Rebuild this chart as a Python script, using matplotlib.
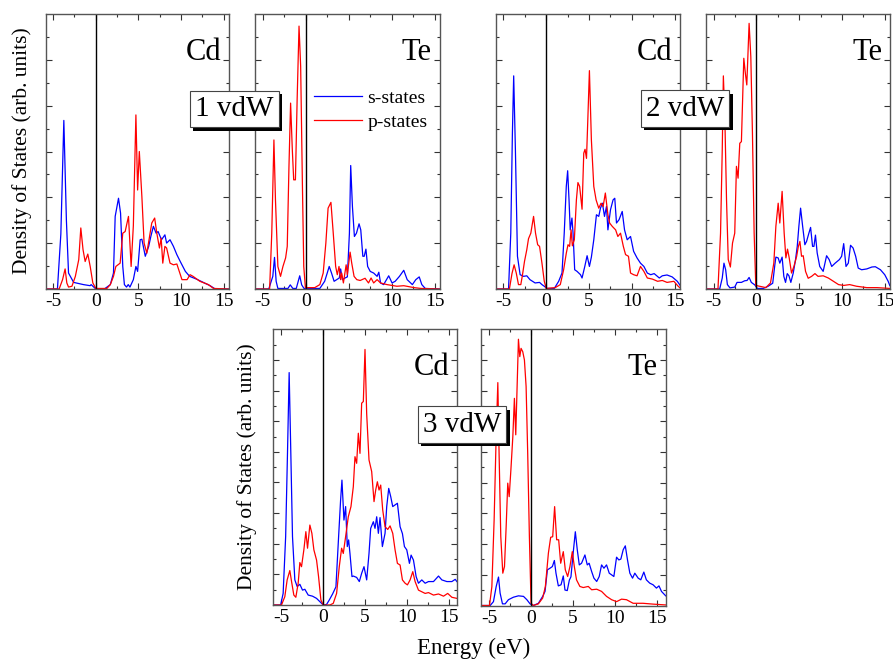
import matplotlib
matplotlib.use("Agg")
import matplotlib.pyplot as plt
from matplotlib.patches import Rectangle
import numpy as np

plt.rcParams['font.family'] = ['Liberation Serif', 'DejaVu Serif']

# --- data (energy in eV, DOS in % of panel height) ---
# 1 vdW, Cd
cd1_s_E = [-6, -4.5, -4.1, -3.75, -3.45, -3.2, -2.6, -1.45, -0.66, -0.55, 0, 1.0, 1.7, 2.07, 2.27, 2.66, 2.9, 3.16, 3.35, 3.6, 3.8, 4.0, 4.4, 4.7, 4.9, 5.2, 5.4, 5.8, 6.2, 6.45, 6.75, 7.07, 7.3, 7.7, 8.1, 8.3, 8.7, 9.1, 9.5, 9.9, 10.5, 11.0, 11.8, 12.6, 13.4, 14.0, 15.6]
cd1_s = [0, 0, 20, 61.3, 25, 5.8, 2.4, 1.6, 1.2, 1.6, 0, 0, 1.6, 5.8, 26.4, 33, 27.6, 8.2, 1.6, 0.7, 1.6, 0.7, 3.4, 8.2, 6.4, 17.9, 18.1, 11.9, 15.5, 19.1, 22.8, 20.3, 20.9, 17.9, 19.7, 16.7, 17.9, 15.5, 12.5, 10, 6.4, 4.6, 3.6, 2.4, 1.2, 0, 0]
cd1_p_E = [-6, -4.3, -3.9, -3.6, -3.4, -3.2, -2.8, -2.4, -2.0, -1.76, -1.5, -1.25, -0.94, -0.66, -0.35, 0, 1.3, 1.7, 2.07, 2.35, 2.85, 3.16, 3.44, 3.83, 4.14, 4.4, 4.7, 4.9, 5.1, 5.4, 5.66, 5.98, 6.3, 6.56, 6.9, 7.15, 7.46, 7.66, 7.85, 8.1, 8.3, 8.7, 9.1, 9.5, 10.1, 10.7, 11.05, 11.4, 12.2, 13.2, 13.8, 15.6]
cd1_p = [0, 0, 3.4, 7.3, 2.2, 0.7, 1.0, 4.6, 10.7, 22.2, 14.3, 10, 12.7, 8.2, 2.2, 0.2, 0.2, 1.6, 4.6, 8.2, 9.4, 20.3, 20.9, 26.4, 8.2, 23, 63.3, 36, 50, 33.6, 16.7, 13, 19.1, 24, 25.8, 20.3, 14.9, 18.5, 9.4, 15.5, 14.9, 9.4, 8.8, 9.1, 3.4, 3.4, 5.2, 4.6, 2.8, 1.6, 0.2, 0]

# 1 vdW, Te
te1_s_E = [-6, -4.3, -3.83, -3.63, -3.44, -3.24, -2.07, -1.8, -1.5, -1.1, -0.7, -0.47, -0.2, 1.64, 2.2, 2.5, 2.73, 3.0, 3.3, 3.6, 3.9, 4.06, 4.26, 4.57, 4.84, 5.08, 5.23, 5.43, 5.66, 5.9, 6.2, 6.4, 6.64, 6.8, 7.0, 7.2, 7.5, 7.9, 8.3, 8.5, 8.7, 9.06, 9.65, 10.04, 10.4, 10.9, 11.4, 11.8, 12.4, 12.8, 13.2, 13.5, 13.9, 15.6]
te1_s = [0, 0, 4.6, 11.5, 2.8, 0.2, 0.2, 1.5, 0.2, 0.2, 4.8, 1.5, 0.2, 0.2, 2.8, 5.8, 8.2, 5.8, 2.8, 3.4, 4.0, 7.3, 3.4, 4.0, 4.4, 20.3, 44.9, 30, 19.1, 20.3, 23.7, 21.5, 11.9, 11.9, 14.5, 8.2, 6.4, 5.8, 4.6, 6.1, 2.2, 1.6, 4.8, 2.2, 2.8, 4.6, 6.8, 3.4, 1.6, 3.4, 4.4, 1.6, 0.2, 0]
te1_p_E = [-6, -4.2, -3.95, -3.7, -3.52, -3.24, -2.93, -2.65, -2.34, -2.15, -1.95, -1.76, -1.56, -1.4, -1.2, -1.0, -0.78, -0.59, -0.39, -0.23, -0.04, 1.05, 1.64, 2.03, 2.34, 2.6, 2.93, 3.2, 3.48, 3.67, 3.87, 4.06, 4.18, 4.38, 4.7, 4.84, 5.16, 5.35, 5.62, 5.94, 6.33, 6.9, 7.3, 7.6, 7.9, 8.3, 8.7, 9.45, 10.6, 11.4, 12.6, 13.4, 15.6]
te1_p = [0, 0, 20.3, 54.2, 32.4, 8.2, 4.6, 8.2, 11.3, 15.5, 44.6, 67.6, 50.6, 39.7, 39.7, 68.8, 95.6, 80.9, 38.5, 8.2, 0.5, 0.5, 1.6, 5.8, 16.7, 29.4, 31.5, 20.3, 8.2, 5.2, 8.2, 3.4, 5.8, 2.2, 8.8, 5.2, 13.4, 9.4, 4.6, 3.4, 3.1, 3.9, 2.2, 4.0, 2.2, 3.4, 2.2, 1.6, 1.0, 1.2, 0.5, 0.2, 0]

# 2 vdW, Cd
cd2_s_E = [-6, -4.4, -4.14, -3.95, -3.8, -3.6, -3.36, -3.05, -2.65, -2.27, -1.9, -1.3, -0.78, -0.5, -0.23, 0.08, 0.94, 1.45, 1.84, 2.1, 2.34, 2.5, 2.66, 2.8, 3.0, 3.13, 3.32, 3.6, 4.0, 4.18, 4.5, 4.77, 5.04, 5.27, 5.55, 5.86, 6.13, 6.33, 6.56, 6.8, 7.03, 7.2, 7.5, 7.8, 8.0, 8.2, 8.5, 8.87, 9.14, 9.45, 9.84, 10.2, 10.6, 11.0, 11.4, 11.8, 12.2, 12.6, 13.2, 13.55, 14.1, 14.7, 15.3, 15.7]
cd2_s = [0, 0, 20.3, 56.7, 77.5, 50.6, 11.9, 5.2, 4.6, 4.8, 3.4, 2.2, 2.4, 1.6, 1.0, 0.2, 0.2, 2.8, 5.8, 20.3, 37.3, 43, 32.4, 21.5, 25.8, 20.3, 7, 6.4, 5.2, 4.0, 8.2, 12.1, 8.2, 11.6, 17.9, 27, 26.4, 29.4, 31.2, 26.4, 30, 21.5, 28.8, 32.4, 33, 24, 25.2, 28.2, 21.5, 17.9, 19.1, 13.7, 11.3, 9.4, 8.2, 5.8, 5.2, 5.6, 4.0, 4.8, 5.1, 4.4, 2.8, 1.0]
cd2_p_E = [-6, -4.3, -4.0, -3.75, -3.5, -3.24, -2.97, -2.77, -2.54, -2.27, -2.07, -1.8, -1.48, -1.25, -1.0, -0.78, -0.5, -0.23, 0, 1.05, 1.64, 2.03, 2.34, 2.54, 2.73, 2.9, 3.05, 3.28, 3.52, 3.7, 3.9, 4.18, 4.38, 4.53, 4.7, 4.84, 5.04, 5.27, 5.55, 5.82, 6.13, 6.4, 6.64, 6.9, 7.2, 7.4, 7.7, 8.1, 8.36, 8.67, 9.0, 9.26, 9.6, 9.84, 10.2, 10.6, 11.0, 11.4, 11.8, 12.4, 13.0, 13.55, 14.1, 14.9, 15.4, 15.7]
cd2_p = [0, 0, 5.6, 8.8, 5.8, 1.6, 1.6, 5.2, 10, 14.3, 18.3, 20.3, 26.4, 20.3, 16.1, 15.5, 9.4, 2.8, 0.2, 0.5, 1.6, 7, 13, 16.1, 15.5, 21.5, 15.7, 17.9, 32.4, 38.7, 37.3, 29, 49.4, 50.8, 47.5, 60.3, 79.4, 54.2, 37.3, 32.4, 29.4, 31.2, 30, 34.9, 27, 24, 22.8, 21.5, 19.1, 20.3, 15.5, 12.5, 11.9, 5.8, 5.2, 4.8, 8.2, 6.4, 4.0, 3.6, 2.8, 3.1, 2.4, 2.8, 1.0, 0.2]

# 2 vdW, Te
te2_s_E = [-6, -4.3, -4.0, -3.8, -3.6, -3.4, -3.1, -2.54, -2.27, -1.76, -1.37, -1.1, -0.86, -0.6, -0.2, 0.1, 0.8, 1.37, 1.9, 2.15, 2.27, 2.54, 2.73, 3.0, 3.2, 3.4, 3.6, 3.8, 4.02, 4.3, 4.57, 4.77, 4.96, 5.16, 5.4, 5.66, 5.86, 6.13, 6.33, 6.56, 6.72, 6.9, 7.1, 7.4, 7.8, 8.2, 8.5, 8.8, 9.2, 9.7, 9.96, 10.2, 10.47, 10.74, 11.0, 11.3, 11.6, 11.9, 12.3, 12.9, 13.5, 13.9, 14.5, 15.0, 15.4, 15.6]
te2_s = [0, 0, 4.0, 9.4, 7.0, 1.6, 0.4, 0.7, 2.4, 2.4, 3.0, 3.1, 4.2, 2.4, 1.5, 0.2, 0.2, 1.0, 2.1, 8.8, 11.6, 11.3, 9.4, 11.6, 4.6, 2.4, 5.6, 4.8, 2.4, 5.8, 10.7, 15.5, 22.8, 29.4, 22.8, 16.1, 17.3, 20.3, 22.4, 15.5, 15.5, 19.6, 13.1, 8.2, 6.4, 12.1, 10.7, 8.2, 9.4, 10.7, 11.9, 16.5, 8.2, 9.4, 15.9, 14.9, 11.9, 7.6, 7.0, 7.3, 8.0, 8.1, 7.0, 5.2, 2.8, 1.2]
te2_p_E = [-6, -4.5, -4.2, -4.0, -3.87, -3.7, -3.5, -3.3, -3.05, -2.8, -2.54, -2.34, -2.15, -1.95, -1.76, -1.48, -1.3, -1.13, -0.86, -0.66, -0.47, -0.27, -0.08, 1.1, 1.64, 2.03, 2.27, 2.54, 2.73, 3.0, 3.24, 3.44, 3.63, 3.83, 4.1, 4.38, 4.7, 4.9, 5.08, 5.27, 5.47, 5.74, 6.05, 6.45, 6.84, 7.2, 7.8, 8.4, 9.0, 9.6, 10.2, 10.9, 11.7, 12.9, 14.1, 15.6]
te2_p = [0, 0, 20.3, 50.6, 77.5, 62.7, 32.4, 10.7, 8, 16.7, 20.3, 44.6, 40.3, 53, 53.6, 83.9, 78.5, 74.2, 96.6, 84.5, 56.7, 20.3, 1.3, 0.5, 2.2, 9.4, 22.8, 31.2, 24, 35.5, 20.3, 11.3, 14.5, 11.3, 5.8, 8.2, 11.9, 15.5, 17.3, 11.9, 12.1, 6.4, 3.9, 4.6, 5.6, 4.6, 4.8, 4.0, 2.8, 1.6, 1.3, 1.6, 1.0, 0.5, 0.5, 0.2]

# 3 vdW, Cd
cd3_s_E = [-6, -5.1, -4.8, -4.5, -4.28, -4.08, -3.88, -3.68, -3.4, -3.12, -2.8, -2.48, -2.2, -1.8, -1.28, -0.8, -0.4, 0, 0.4, 0.72, 1.12, 1.52, 1.84, 2.08, 2.24, 2.48, 2.68, 2.88, 3.04, 3.2, 3.44, 3.6, 4.0, 4.32, 4.6, 4.88, 5.2, 5.48, 5.68, 6.0, 6.2, 6.4, 6.6, 6.8, 7.08, 7.4, 7.6, 7.84, 8.08, 8.32, 8.6, 8.88, 9.2, 9.48, 9.72, 10.0, 10.32, 10.52, 10.8, 11.12, 11.4, 11.8, 12.2, 12.6, 13.2, 13.8, 14.2, 14.8, 15.4, 15.8, 16]
cd3_s = [0, 0, 4.2, 24.8, 55, 84.3, 55, 24.8, 9.1, 6.7, 7.5, 5.4, 5.7, 3.6, 3.2, 2.4, 1.2, 0, 0.2, 1.8, 4.0, 6.6, 24.8, 38.1, 45.3, 30.8, 35.7, 21.2, 23.6, 18.7, 10.3, 10.5, 10.0, 8.5, 11.5, 13.9, 9.1, 18.7, 27.8, 30.2, 27.8, 32, 26.0, 31.7, 21.2, 26.0, 35.7, 42.3, 39.3, 35.7, 36.3, 36.9, 28.4, 25.9, 21.2, 20.0, 15.1, 18.1, 16.3, 10.3, 7.9, 9.1, 7.9, 8.5, 8.5, 10.5, 9.1, 8.5, 8.5, 9.3, 8.5]
cd3_p_E = [-6, -5.0, -4.6, -4.32, -4.0, -3.76, -3.52, -3.28, -3.0, -2.8, -2.6, -2.32, -2.08, -1.88, -1.6, -1.36, -1.12, -0.8, -0.56, -0.28, 0, 0.8, 1.2, 1.6, 1.92, 2.2, 2.4, 2.68, 3.0, 3.32, 3.6, 3.8, 4.0, 4.2, 4.4, 4.6, 4.8, 5.0, 5.2, 5.48, 5.8, 6.08, 6.28, 6.48, 6.68, 6.88, 7.12, 7.4, 7.72, 8.0, 8.32, 8.6, 8.88, 9.2, 9.48, 9.8, 10.08, 10.4, 10.72, 11.0, 11.4, 11.8, 12.2, 12.6, 13.2, 13.8, 14.4, 14.9, 15.4, 16]
cd3_p = [0, 0, 3.0, 9.1, 12.5, 7.9, 3.6, 2.8, 7.9, 15.4, 13.9, 20.0, 26.6, 20.6, 29.0, 26.0, 20.0, 16.3, 10.3, 1.8, 0, 0, 0.6, 4.2, 13.9, 20.6, 18.7, 24.8, 32, 35.7, 42.9, 53.8, 51.4, 62.3, 55.0, 73.2, 73.8, 92.7, 69.4, 52.6, 48.4, 37.5, 41.7, 44.7, 41.7, 43.5, 34.5, 28.4, 27.4, 28.7, 26.0, 20.0, 15.1, 14.5, 9.1, 7.9, 7.3, 9.1, 12.1, 8.5, 5.4, 4.8, 4.2, 4.5, 3.6, 4.0, 3.2, 4.2, 2.8, 2.4]

# 3 vdW, Te
te3_s_E = [-6, -4.86, -4.47, -4.15, -3.87, -3.68, -3.4, -3.08, -2.69, -2.1, -1.5, -0.9, -0.5, -0.12, 0.28, 0.87, 1.38, 1.66, 1.94, 2.25, 2.53, 2.77, 2.96, 3.24, 3.56, 3.83, 4.03, 4.3, 4.55, 4.74, 5.0, 5.26, 5.49, 5.73, 6.0, 6.4, 6.68, 6.9, 7.2, 7.47, 7.8, 8.1, 8.38, 8.66, 8.97, 9.29, 9.57, 9.84, 10.16, 10.43, 10.67, 10.95, 11.2, 11.46, 11.74, 12.06, 12.33, 12.73, 13.04, 13.4, 13.7, 14.1, 14.5, 14.9, 15.2, 15.5, 16]
te3_s = [0, 0, 1.4, 6.8, 10.3, 4.5, 0.6, 0.6, 2.1, 3.0, 3.5, 3.3, 2.1, 0.6, 0, 0.8, 3.3, 5.1, 12.9, 13.5, 14.1, 16.3, 11.7, 7.1, 7.5, 10.7, 5.6, 5.4, 9.2, 10.4, 18.9, 26.7, 20.2, 14.7, 15.3, 18.3, 14.7, 15.3, 12.3, 9.9, 8.7, 10.5, 14.7, 13.5, 14.7, 11.7, 11.1, 10.5, 17.5, 16.5, 16.8, 20.2, 21.6, 16.5, 11.7, 9.9, 11.7, 9.9, 9.3, 12.1, 9.3, 8.1, 7.5, 6.3, 7.1, 5.1, 3.5]
te3_p_E = [-6, -4.94, -4.66, -4.39, -4.15, -3.95, -3.8, -3.6, -3.36, -3.16, -2.96, -2.77, -2.6, -2.4, -2.17, -1.98, -1.82, -1.66, -1.5, -1.34, -1.19, -0.99, -0.79, -0.59, -0.4, -0.2, 0, 0.28, 0.87, 1.38, 1.7, 2.06, 2.33, 2.57, 2.8, 3.04, 3.28, 3.52, 3.83, 4.07, 4.35, 4.62, 4.9, 5.14, 5.4, 5.8, 6.2, 6.8, 7.2, 7.8, 8.38, 8.97, 9.57, 10.16, 10.75, 11.34, 12.13, 13.3, 14.5, 16]
te3_p = [0, 0, 6.8, 31, 61.0, 80.7, 55.0, 25.0, 11.7, 14.1, 28.6, 44.3, 39.4, 49.0, 61.0, 75.0, 61.8, 79.1, 96.4, 90.1, 93.1, 91.9, 88.9, 79.3, 55.2, 25.0, 0.8, 0, 0.6, 2.7, 6.9, 19.0, 24.7, 24.9, 35.8, 23.8, 23.8, 15.3, 19.5, 12.9, 10.5, 14.1, 19.5, 14.1, 9.3, 6.9, 6.5, 6.9, 5.7, 5.9, 5.1, 3.3, 2.1, 1.4, 2.3, 2.1, 0.8, 0.8, 0.5, 0.2]

panels = [
    # edges in pixels: left, right, top, bottom
    ((45.5, 229.3, 14, 289), (-5.9, 15.65), "Cd", cd1_s_E, cd1_s, cd1_p_E, cd1_p, 6),
    ((255, 440.3, 14, 289), (-5.9, 15.65), "Te", te1_s_E, te1_s, te1_p_E, te1_p, 6),
    ((495.7, 680.3, 14, 289), (-5.9, 15.65), "Cd", cd2_s_E, cd2_s, cd2_p_E, cd2_p, 6),
    ((706, 890.3, 14, 289), (-5.9, 15.65), "Te", te2_s_E, te2_s, te2_p_E, te2_p, 6),
    ((272.7, 457.3, 329.3, 605), (-6.05, 16.05), "Cd", cd3_s_E, cd3_s, cd3_p_E, cd3_p, 9),
    ((481, 665.7, 329.3, 605.5), (-5.95, 16.0), "Te", te3_s_E, te3_s, te3_p_E, te3_p, 9),
]

W, H = 893, 662
fig = plt.figure(figsize=(W / 100, H / 100), dpi=100)

frame_col = "#555555"
axes = []
for (l, r, t, b), xlim, name, sE, s, pE, p, nmaj in panels:
    ax = fig.add_axes([l / W, 1 - b / H, (r - l) / W, (b - t) / H])
    ax.plot(sE, s, color="#0000ff", lw=0.9, label="s-states")
    ax.plot(pE, p, color="#ff0000", lw=0.9, label="p-states")
    ax.axvline(0, color="black", lw=1.0)
    ax.set_xlim(*xlim)
    ax.set_ylim(0, 100)
    ax.set_xticks([-5, 0, 5, 10, 15])
    ax.set_xticks([-2.5, 2.5, 7.5, 12.5], minor=True)
    ax.set_yticks(np.linspace(0, 100, nmaj + 1)[1:-1])
    ax.set_yticks(np.linspace(0, 100, 2 * nmaj + 1)[1::2], minor=True)
    ax.set_yticklabels([])
    ax.tick_params(which="both", direction="in", top=True, right=True, colors="#333333",
                   labelcolor="black", labelsize=14, pad=3)
    ax.tick_params(which="major", length=4, width=0.8)
    ax.tick_params(which="minor", length=2, width=0.8)
    ax.set_xticklabels(["-5", "0", "5", "10", "15"])
    for sp in ax.spines.values():
        sp.set_color(frame_col)
        sp.set_linewidth(1.0)
    ax.text(0.955, 0.86, name, transform=ax.transAxes, ha="right", va="center", fontsize=22)
    axes.append(ax)

axes[1].legend(loc="upper left", bbox_to_anchor=(0.245, 0.775), frameon=False, fontsize=14,
               handlelength=2.45, handletextpad=0.3, labelspacing=0.3, borderpad=0.2)

# "n vdW" boxes with drop shadow
boxes = []
for label, cx, cy in [("1 vdW", 234, 109), ("2 vdW", 685, 108.5), ("3 vdW", 462, 424.5)]:
    tx = fig.text(cx / W, 1 - cy / H, label, fontsize=21, ha="center", va="center", zorder=5,
                  bbox=dict(boxstyle="square,pad=0.18", fc="white", ec="#444444", lw=0.8))
    boxes.append(tx)

fig.canvas.draw()
for tx in boxes:
    bb = tx.get_bbox_patch().get_window_extent().transformed(fig.transFigure.inverted())
    fig.add_artist(Rectangle((bb.x0 + 3.5 / W, bb.y0 - 3.5 / H), bb.width, bb.height,
                             transform=fig.transFigure, fc="black", ec="none", zorder=4))

fig.text(22 / W, 1 - 151 / H, "Density of States (arb. units)", rotation=90, ha="center",
         va="center", fontsize=15.5)
fig.text(247 / W, 1 - 467 / H, "Density of States (arb. units)", rotation=90, ha="center",
         va="center", fontsize=15.5)
fig.text(474 / W, 1 - 648 / H, "Energy (eV)", ha="center", va="center", fontsize=16.5)

fig.savefig("out.png", dpi=100)
